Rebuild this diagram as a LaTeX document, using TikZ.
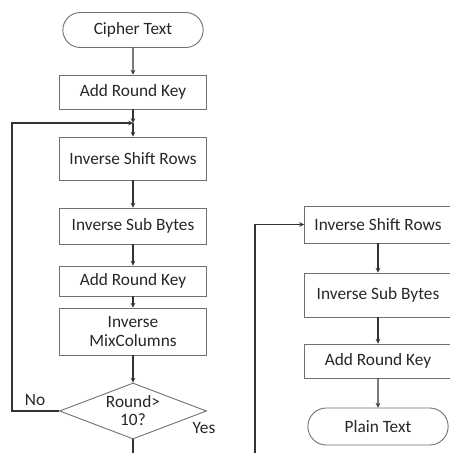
\documentclass[tikz,border=0pt]{standalone}
\usepackage{fontspec}
\setmainfont{Carlito}
\usepackage{xcolor}
\usetikzlibrary{arrows,shapes.geometric,shapes.misc}
\definecolor{boxgray}{HTML}{707070}
\definecolor{linegray}{HTML}{333333}
\definecolor{textgray}{HTML}{262626}
\tikzset{
	stepbox/.style={
			draw=boxgray, line width=0.9pt, rectangle, minimum width=147pt,
			align=center, text=textgray, font=\fontsize{17.3}{19}\selectfont
		},
	endbox/.style={
			stepbox, rounded rectangle
		},
	testbox/.style={
			draw=boxgray, line width=0.9pt, diamond, aspect=2.6, inner sep=0pt,
			minimum width=147pt, minimum height=56pt, align=center,
			text=textgray, font=\fontsize{17.3}{18}\selectfont
		}
}

\begin{document}
\begin{tikzpicture}[x=1pt,y=-1pt]
    \useasboundingbox (0,0) rectangle (450,453);
    \clip (0,0) rectangle (450,453);
    % first column
    \node[endbox,minimum height=35pt] (ct) at (133,30) {Cipher Text};
    \node[stepbox,minimum height=34pt] (ark1) at (133,92) {Add Round Key};
    \node[stepbox,minimum height=43pt] (isr1) at (133,158.5) {Inverse Shift Rows};
    \node[stepbox,minimum height=36pt] (isb1) at (133,226) {Inverse Sub Bytes};
    \node[stepbox,minimum height=30pt] (ark2) at (133,281) {Add Round Key};
    \node[stepbox,minimum height=47pt] (imc) at (133,331.5) {Inverse\\MixColumns};
    \node[testbox] (dec) at (133,411) {Round>\\10?};
    \coordinate (j) at (133,123);
    \coordinate (loop) at (12,411);
    \coordinate (out) at (133,453);
    % second column
    \node[stepbox,minimum height=37pt] (isr2) at (378,224.5) {Inverse Shift Rows};
    \node[stepbox,minimum height=44pt] (isb2) at (378,295) {Inverse Sub Bytes};
    \node[stepbox,minimum height=34pt] (ark3) at (378,361) {Add Round Key};
    \node[endbox,minimum height=37pt] (pt) at (378,426.5) {Plain Text};
    \coordinate (in) at (255,453);
    % connectors
    \begin{scope}[draw=linegray, line width=1.1pt]
    \draw[-stealth] (ct) -- (ark1);
    \draw[-stealth] (ark1) -- (j);
    \draw[-stealth] (j) -- (isr1);
    \draw[-stealth] (isr1) -- (isb1);
    \draw[-stealth] (isb1) -- (ark2);
    \draw[-stealth] (ark2) -- (imc);
    \draw[-stealth] (imc) -- (dec);
    \draw[-stealth] (dec.west) -- (loop) |- (j);
    \draw (dec.south) -- (out);
    \draw[-stealth] (in) |- (isr2.west);
    \draw[-stealth] (isr2) -- (isb2);
    \draw[-stealth] (isb2) -- (ark3);
    \draw[-stealth] (ark3) -- (pt);
    \end{scope}
    \node[text=textgray,font=\fontsize{17.3}{19}\selectfont] (no) at (35,400) {No};
    \node[text=textgray,font=\fontsize{17.3}{19}\selectfont] (yes) at (204,428) {Yes};
\end{tikzpicture}
\end{document}
